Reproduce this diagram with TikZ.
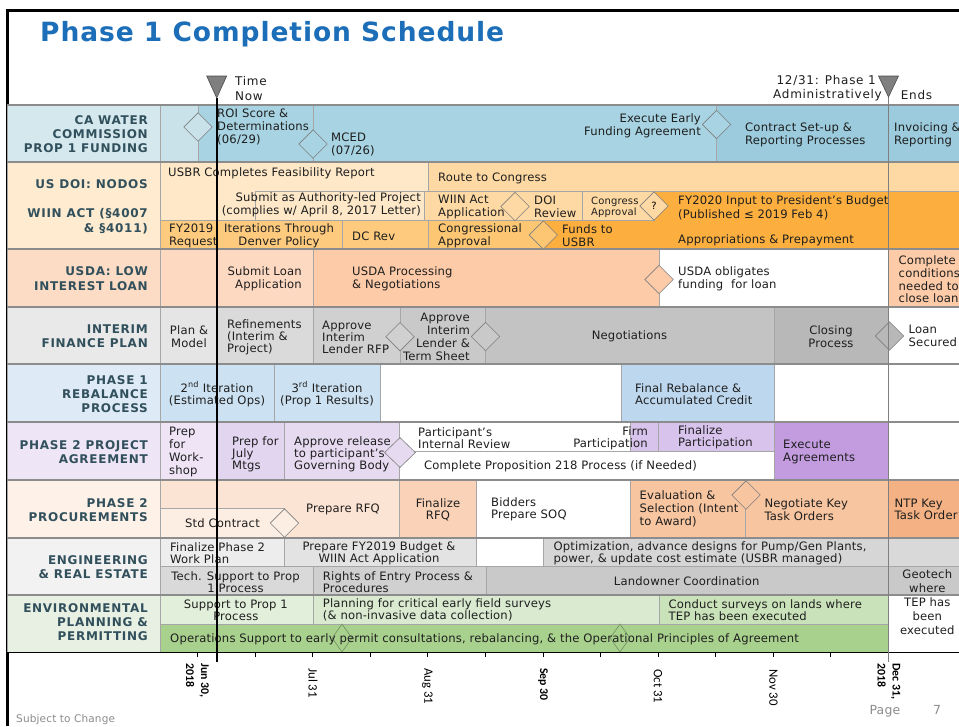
\documentclass[tikz,border=0pt]{standalone}
\usepackage{fontspec}
\setmainfont{DejaVu Sans}[LetterSpace=1.5]
\newfontfamily\lblfont{DejaVu Sans}[LetterSpace=6]
\newfontfamily\hdrfont{DejaVu Sans}[LetterSpace=6]
\newfontfamily\ttlfont{DejaVu Sans}[LetterSpace=3.5]
\newfontfamily\datefont{Carlito}
\usetikzlibrary{shapes.geometric}
\definecolor{gridc}{HTML}{A6A6A6}
\definecolor{rowc}{HTML}{8C8C8C}
\definecolor{lblcol}{HTML}{31505C}
\definecolor{ttl}{HTML}{1B6EB7}
\definecolor{txtc}{HTML}{1E1E1E}
\definecolor{msc}{HTML}{7F7F7F}
\definecolor{msg}{HTML}{6F8F5F}
\definecolor{trif}{HTML}{7F7F7F}
\definecolor{tric}{HTML}{4D4D4D}
\definecolor{endl}{HTML}{7F7F7F}
\definecolor{footc}{HTML}{8C8C8C}
\definecolor{c1lab}{HTML}{D4E8EE}\definecolor{c1a}{HTML}{C9E2E9}\definecolor{c1b}{HTML}{A7D3E2}\definecolor{c1c}{HTML}{9BCBDC}
\definecolor{c2lab}{HTML}{FEEBD0}\definecolor{c2a}{HTML}{FEE8C8}\definecolor{c2b}{HTML}{FFD9A3}\definecolor{c2c}{HTML}{FECB7E}\definecolor{c2d}{HTML}{FDC672}\definecolor{c2e}{HTML}{FCAF3F}
\definecolor{c3lab}{HTML}{FDDCC5}\definecolor{c3a}{HTML}{FDD9C2}\definecolor{c3b}{HTML}{FDCBA8}
\definecolor{c4lab}{HTML}{E9E9E9}\definecolor{c4a}{HTML}{E5E5E5}\definecolor{c4b}{HTML}{DADADA}\definecolor{c4c}{HTML}{D0D0D0}\definecolor{c4d}{HTML}{C9C9C9}\definecolor{c4e}{HTML}{C3C3C3}\definecolor{c4f}{HTML}{B8B8B8}
\definecolor{c5lab}{HTML}{DEEBF7}\definecolor{c5a}{HTML}{CCE2F2}\definecolor{c5b}{HTML}{BDD7EE}
\definecolor{c6lab}{HTML}{EEE5F6}\definecolor{c6a}{HTML}{EEE4F6}\definecolor{c6b}{HTML}{E2D5F0}\definecolor{c6c}{HTML}{E6DAF1}\definecolor{c6d}{HTML}{D8C3EC}\definecolor{c6e}{HTML}{C39CE0}
\definecolor{c7lab}{HTML}{FDF1E8}\definecolor{c7a}{HTML}{FCE4D4}\definecolor{c7b}{HTML}{FDEEE3}\definecolor{c7c}{HTML}{F9D2B7}\definecolor{c7d}{HTML}{F7C5A0}\definecolor{c7e}{HTML}{F4B183}
\definecolor{c8lab}{HTML}{F2F2F2}\definecolor{c8a}{HTML}{EDEDED}\definecolor{c8b}{HTML}{E3E3E3}\definecolor{c8c}{HTML}{D6D6D6}\definecolor{c8d}{HTML}{D9D9D9}\definecolor{c8e}{HTML}{D0D0D0}\definecolor{c8f}{HTML}{C9C9C9}
\definecolor{c9lab}{HTML}{E8F0E3}\definecolor{c9a}{HTML}{E2EFDA}\definecolor{c9b}{HTML}{D9EAD0}\definecolor{c9c}{HTML}{C9E2B9}\definecolor{c9d}{HTML}{A9D18E}
\newcommand\cellrect[5]{\path[cellbox,fill=#5] (#1,#2) rectangle (#3,#4);}
\begin{document}
\begin{tikzpicture}[x=1pt,y=-1pt,
 cellbox/.style={draw=gridc,line width=0.8pt},
 txt/.style={font=\fontsize{11.6}{13}\selectfont,inner sep=0pt,text=txtc},
 lt/.style={txt,anchor=west,align=left},
 ct/.style={txt,anchor=center,align=center},
 rt/.style={txt,anchor=east,align=right},
 hdr/.style={font=\hdrfont\fontsize{12}{15.7}\selectfont,inner sep=0pt,text=txtc},
 lbl/.style={font=\lblfont\bfseries\fontsize{12}{14.3}\selectfont,text=lblcol,anchor=east,align=right,inner sep=0pt},
 ms/.style={diamond,draw=msc,line width=0.6pt,inner sep=0pt,minimum width=28.6pt,minimum height=28.6pt},
 msn/.style={diamond,draw=msg,line width=0.6pt,inner sep=0pt,minimum width=20pt,minimum height=28pt,fill=c9d},
 datef/.style={font=\datefont\fontsize{12.8}{14}\selectfont,rotate=-90,anchor=west,align=left,inner sep=0pt,text=black},
 dateb/.style={font=\datefont\bfseries\fontsize{11.8}{15}\selectfont,rotate=-90,anchor=west,align=left,inner sep=0pt,text=black},
 foot/.style={inner sep=0pt,text=footc}
]
\useasboundingbox (0,0) rectangle (959,726);
\fill[white] (0,0) rectangle (959,726);
% frame
\draw[black,line width=2.6pt] (7.3,726) -- (7.3,10.5) -- (965,10.5);
% title
\node[anchor=base west,font=\ttlfont\bfseries\fontsize{26.5}{30}\selectfont,text=ttl,inner sep=0pt] (title) at (40,41.7) {Phase 1 Completion Schedule};
% ---------------- cells ----------------
% row 1
\cellrect{7}{105}{160}{162}{c1lab}
\cellrect{160}{105}{198}{162}{c1a}
\cellrect{198}{105}{313}{162}{c1b}
\cellrect{313}{105}{716.5}{162}{c1b}
\cellrect{716.5}{105}{888.5}{162}{c1c}
\cellrect{888.5}{105}{966}{162}{c1c}
% row 2
\cellrect{7}{162}{160}{249}{c2lab}
\path[cellbox,fill=c2a] (160,162) -- (428,162) -- (428,191.5) -- (255,191.5) -- (255,220.5) -- (160,220.5) -- cycle;
\cellrect{428}{162}{888.5}{191.5}{c2b}
\cellrect{888.5}{162}{966}{191.5}{c2b}
\cellrect{255}{191.5}{424}{220.5}{c2a}
\cellrect{424}{191.5}{515}{220.5}{c2b}
\cellrect{515}{191.5}{582}{220.5}{c2b}
\cellrect{582}{191.5}{654}{220.5}{c2b}
\path[cellbox,fill=c2e] (654,191.5) -- (888.5,191.5) -- (888.5,249) -- (543,249) -- (543,220.5) -- (654,220.5) -- cycle;
\cellrect{888.5}{191.5}{966}{249}{c2e}
\cellrect{160}{220.5}{217}{249}{c2c}
\cellrect{217}{220.5}{342}{249}{c2c}
\cellrect{342}{220.5}{428}{249}{c2c}
\cellrect{428}{220.5}{543}{249}{c2d}
% row 3
\cellrect{7}{249}{160}{307}{c3lab}
\cellrect{160}{249}{313}{307}{c3a}
\cellrect{313}{249}{659}{307}{c3b}
\cellrect{659}{249}{888.5}{307}{white}
\cellrect{888.5}{249}{966}{307}{c3b}
% row 4
\cellrect{7}{307}{160}{364}{c4lab}
\cellrect{160}{307}{217}{364}{c4a}
\cellrect{217}{307}{313}{364}{c4b}
\cellrect{313}{307}{400}{364}{c4c}
\cellrect{400}{307}{485.5}{364}{c4d}
\cellrect{485.5}{307}{774}{364}{c4e}
\cellrect{774}{307}{888.5}{364}{c4f}
\cellrect{888.5}{307}{966}{364}{white}
% row 5
\cellrect{7}{364}{160}{422}{c5lab}
\cellrect{160}{364}{274.5}{422}{c5a}
\cellrect{274.5}{364}{380.5}{422}{c5a}
\cellrect{380.5}{364}{621}{422}{white}
\cellrect{621}{364}{774}{422}{c5b}
\cellrect{774}{364}{888.5}{422}{white}
\cellrect{888.5}{364}{966}{422}{white}
% row 6
\cellrect{7}{422}{160}{480}{c6lab}
\cellrect{160}{422}{217}{480}{c6a}
\cellrect{217}{422}{284.3}{480}{c6b}
\cellrect{284.3}{422}{399.5}{480}{c6c}
\cellrect{399.5}{422}{630}{451}{white}
\cellrect{630}{422}{658.5}{451}{c6d}
\cellrect{658.5}{422}{774}{451}{c6d}
\cellrect{399.5}{451}{774}{480}{white}
\cellrect{774}{422}{888.5}{480}{c6e}
\cellrect{888.5}{422}{966}{480}{white}
% row 7
\cellrect{7}{480}{160}{538}{c7lab}
\path[cellbox,fill=c7a] (160,480) -- (399.5,480) -- (399.5,538) -- (284.5,538) -- (284.5,508.5) -- (160,508.5) -- cycle;
\cellrect{160}{508.5}{284.5}{538}{c7b}
\cellrect{399.5}{480}{476.5}{538}{c7c}
\cellrect{476.5}{480}{630}{538}{white}
\cellrect{630}{480}{745.7}{538}{c7d}
\cellrect{745.7}{480}{888.5}{538}{c7d}
\cellrect{888.5}{480}{966}{538}{c7e}
% row 8
\cellrect{7}{538}{160}{595}{c8lab}
\cellrect{160}{538}{284.3}{566}{c8a}
\cellrect{284.3}{538}{476.5}{566}{c8b}
\cellrect{476.5}{538}{543.3}{566}{white}
\cellrect{543.3}{538}{888.5}{566}{c8c}
\cellrect{888.5}{538}{966}{566}{c8d}
\cellrect{160}{566}{313}{595}{c8d}
\cellrect{313}{566}{486}{595}{c8e}
\cellrect{486}{566}{888.5}{595}{c8f}
\cellrect{888.5}{566}{966}{595}{c8f}
% row 9
\cellrect{7}{595}{160}{652}{c9lab}
\cellrect{160}{595}{313}{624}{c9a}
\cellrect{313}{595}{659}{624}{c9b}
\cellrect{659}{595}{888.5}{624}{c9c}
\cellrect{888.5}{595}{966}{652}{white}
\cellrect{160}{624}{888.5}{652}{c9d}
% row separators
\foreach \yy in {105,162,249,307,364,422,480,538,595}
  \draw[rowc,line width=1.2pt] (7,\yy) -- (966,\yy);
% axis
\draw[black,line width=1pt] (7,652.5) -- (966,652.5);
\foreach \i in {0,...,12}
  \draw[black,line width=0.9pt] (197.7+57.55*\i,652.5) -- ++(0,4);
% ---------------- milestones ----------------
\node[ms,fill=c1a] (d1) at (198,127) {};
\node[ms,fill=c1b] (d2) at (313,144) {};
\node[ms,fill=c1b] (d3) at (716.5,124.5) {};
\node[ms,fill=c2b] (d4) at (515,206.5) {};
\node[ms,fill=c2b,font=\fontsize{10}{10}\selectfont] (d5) at (654,206) {?};
\node[ms,fill=c2d] (d6) at (543.3,235) {};
\node[ms,fill=c3b] (d7) at (659,279.5) {};
\node[ms,fill=c4c] (d8) at (400,336.7) {};
\node[ms,fill=c4d] (d9) at (485.5,336.5) {};
\node[ms,fill=c4f] (d10) at (889.5,336) {};
\node[ms,fill=c6c,minimum width=31pt,minimum height=30pt] (d11) at (400,452.5) {};
\node[ms,fill=c7b] (d12) at (284.5,523) {};
\node[ms,fill=c7d] (d13) at (746,495) {};
\node[msn] (d14) at (342,638) {};
\node[msn] (d15) at (620,638) {};
% ---------------- row labels ----------------
\node[lbl] (l1) at (148,134.3) {CA WATER\\COMMISSION\\PROP 1 FUNDING};
\node[lbl] (l2a) at (148,184.5) {US DOI: NODOS};
\node[lbl] (l2b) at (148,221.2) {WIIN ACT (§4007\\\& §4011)};
\node[lbl] (l3) at (148,278.6) {USDA: LOW\\INTEREST LOAN};
\node[lbl] (l4) at (148,336) {INTERIM\\FINANCE PLAN};
\node[lbl] (l5) at (148,394) {PHASE 1\\REBALANCE\\PROCESS};
\node[lbl] (l6) at (148,451.8) {PHASE 2 PROJECT\\AGREEMENT};
\node[lbl] (l7) at (148,509.8) {PHASE 2\\PROCUREMENTS};
\node[lbl] (l8) at (148,567) {ENGINEERING\\\& REAL ESTATE};
\node[lbl] (l9) at (148,622) {ENVIRONMENTAL\\PLANNING \&\\PERMITTING};
% ---------------- cell texts ----------------
% row 1
\node[lt] (t1a) at (217,127) {ROI Score \&\\Determinations\\(06/29)};
\node[lt] (t1b) at (331,144.7) {MCED\\(07/26)};
\node[rt] (t1c) at (701,125.5) {Execute Early\\Funding Agreement};
\node[lt] (t1d) at (745,134.5) {Contract Set-up \&\\Reporting Processes};
\node[lt] (t1e) at (894,134.5) {Invoicing \&\\Reporting};
% row 2
\node[lt] (t2a) at (168,173) {USBR Completes Feasibility Report};
\node[lt] (t2b) at (438,178) {Route to Congress};
\node[rt] (t2c) at (421,205) {Submit as Authority-led Project\\(complies w/ April 8, 2017 Letter)};
\node[lt] (t2d) at (438,206.5) {WIIN Act\\Application};
\node[lt] (t2e) at (534,206.3) {DOI\\Review};
\node[lt,font=\fontsize{10}{11.5}\selectfont] (t2f) at (591,207.2) {Congress\\Approval};
\node[lt,font=\fontsize{11.6}{13.5}\selectfont] (t2g) at (678,207.8) {FY2020 Input to President’s Budget\\(Published ≤ 2019 Feb 4)};
\node[lt] (t2h) at (169,235.5) {FY2019\\Request};
\node[ct] (t2i) at (279,235.5) {Iterations Through\\Denver Policy};
\node[lt] (t2j) at (352,236) {DC Rev};
\node[lt] (t2k) at (438,235.5) {Congressional\\Approval};
\node[lt] (t2l) at (562,235.5) {Funds to\\USBR};
\node[lt] (t2m) at (678,240) {Appropriations \& Prepayment};
% row 3
\node[rt] (t3a) at (302,278.7) {Submit Loan\\Application};
\node[lt] (t3b) at (352,278.7) {USDA Processing\\\& Negotiations};
\node[lt] (t3c) at (678,279.2) {USDA obligates\\funding\ \ for loan};
\node[lt,font=\fontsize{11.6}{12.7}\selectfont] (t3d) at (898.5,279.5) {Complete\\conditions\\needed to\\close loan};
% row 4
\node[ct] (t4a) at (189,337) {Plan \&\\Model};
\node[lt,font=\fontsize{11.6}{12.3}\selectfont] (t4b) at (227,337.2) {Refinements\\(Interim \&\\Project)};
\node[lt,font=\fontsize{11.6}{12}\selectfont] (t4c) at (322,337.7) {Approve\\Interim\\Lender RFP};
\node[rt,font=\fontsize{11.6}{12.8}\selectfont] (t4d) at (470,336.8) {Approve\\Interim\\Lender \&\\Term Sheet};
\node[ct] (t4e) at (629.5,336.3) {Negotiations};
\node[ct] (t4f) at (831,337) {Closing\\Process};
\node[lt,font=\fontsize{11.6}{12.5}\selectfont] (t4g) at (908.5,335.8) {Loan\\Secured};
% row 5
\node[ct,font=\fontsize{11.6}{12.5}\selectfont] (t5a) at (217,394.2) {2\textsuperscript{nd} Iteration\\(Estimated Ops)};
\node[ct,font=\fontsize{11.6}{12.5}\selectfont] (t5b) at (327,394.2) {3\textsuperscript{rd} Iteration\\(Prop 1 Results)};
\node[lt,font=\fontsize{11.6}{12.5}\selectfont] (t5c) at (635,394.2) {Final Rebalance \&\\Accumulated Credit};
% row 6
\node[lt] (t6a) at (169,451.5) {Prep\\for\\Work-\\shop};
\node[lt,font=\fontsize{11.6}{12}\selectfont] (t6b) at (232,454) {Prep for\\July\\Mtgs};
\node[lt,font=\fontsize{11.6}{12}\selectfont] (t6c) at (294,453.8) {Approve release\\to participant’s\\Governing Body};
\node[lt,font=\fontsize{11.6}{12.5}\selectfont] (t6d) at (418,438.2) {Participant’s\\Internal Review};
\node[rt,font=\fontsize{11.6}{12.5}\selectfont] (t6e) at (648,438.2) {Firm\\Participation};
\node[lt,font=\fontsize{11.6}{12}\selectfont] (t6f) at (678,437.5) {Finalize\\Participation};
\node[lt] (t6g) at (424,466) {Complete Proposition 218 Process (if Needed)};
\node[lt] (t6h) at (783,451.5) {Execute\\Agreements};
% row 7
\node[ct] (t7a) at (343,509.3) {Prepare RFQ};
\node[lt] (t7b) at (185,522.7) {Std Contract};
\node[ct,font=\fontsize{11.6}{12.7}\selectfont] (t7c) at (438,509.7) {Finalize\\RFQ};
\node[lt,font=\fontsize{11.6}{12.5}\selectfont] (t7d) at (491,509.5) {Bidders\\Prepare SOQ};
\node[lt] (t7e) at (639.5,509.3) {Evaluation \&\\Selection (Intent\\to Award)};
\node[lt,font=\fontsize{11.6}{12.5}\selectfont] (t7f) at (764.3,509.5) {Negotiate Key\\Task Orders};
\node[lt,font=\fontsize{11.6}{12.5}\selectfont] (t7g) at (894.3,509.5) {NTP Key\\Task Order};
% row 8
\node[lt,font=\fontsize{11.6}{12.3}\selectfont] (t8a) at (170,553) {Finalize Phase 2\\Work Plan};
\node[ct,font=\fontsize{11.6}{12.3}\selectfont] (t8b) at (379,553) {Prepare FY2019 Budget \&\\WIIN Act Application};
\node[lt,font=\fontsize{11.6}{12.3}\selectfont] (t8c) at (553.3,553) {Optimization, advance designs for Pump/Gen Plants,\\power, \& update cost estimate (USBR managed)};
\node[ct,font=\fontsize{11.6}{12}\selectfont] (t8d) at (235.5,581.7) {Tech. Support to Prop\\1 Process};
\node[lt,font=\fontsize{11.6}{12}\selectfont] (t8e) at (322.7,581.7) {Rights of Entry Process \&\\Procedures};
\node[ct] (t8f) at (686.7,581) {Landowner Coordination};
\node[ct,font=\fontsize{11.6}{14}\selectfont] (t8g) at (927.3,602) {Geotech\\where\\TEP has\\been\\executed};
% row 9
\node[ct,font=\fontsize{11.6}{12}\selectfont] (t9a) at (235.8,610) {Support to Prop 1\\Process};
\node[lt,font=\fontsize{11.6}{12}\selectfont] (t9b) at (322.7,610) {Planning for critical early field surveys\\(\& non-invasive data collection)};
\node[lt,font=\fontsize{11.6}{12}\selectfont] (t9c) at (668.3,610) {Conduct surveys on lands where\\TEP has been executed};
\node[lt] (t9d) at (170,639.3) {Operations Support to early permit consultations, rebalancing, \& the Operational Principles of Agreement};
% ---------------- header markers ----------------
\node[hdr,anchor=west,align=left] (tnow) at (235,88.4) {Time\\Now};
\node[hdr,anchor=east] (tend1) at (876,80.5) {12/31: Phase 1};
\node[hdr,anchor=east] (tend2) at (882,95.5) {Administratively};
\node[hdr,anchor=west] (tend3) at (900.7,95.5) {Ends};
\coordinate (nowtop) at (216.7,98);
\coordinate (nowbot) at (216.7,662);
\coordinate (endtop) at (888.5,97);
\coordinate (endbot) at (888.5,662);
\draw[endl,line width=1.8pt] (endtop) -- (endbot);
\draw[black,line width=2.2pt] (nowtop) -- (nowbot);
\draw[tric,fill=trif,line width=0.6pt] (206.7,76) -- (226.7,76) -- (nowtop) -- cycle;
\draw[tric,fill=trif,line width=0.6pt] (878.5,76) -- (898.5,76) -- (endtop) -- cycle;
% ---------------- dates ----------------
\node[dateb] (dJun) at (197.5,663) {Jun 30,\\2018};
\node[datef] (dJul) at (313,668) {Jul 31};
\node[datef] (dAug) at (427.5,668) {Aug 31};
\node[dateb] (dSep) at (543,668) {Sep 30};
\node[datef] (dOct) at (658,669) {Oct 31};
\node[datef] (dNov) at (773.5,669) {Nov 30};
\node[dateb] (dDec) at (889,663) {Dec 31,\\2018};
% ---------------- footer ----------------
\node[foot,anchor=west,font=\fontsize{10.5}{12}\selectfont] (subj) at (16,719.5) {Subject to Change};
\node[foot,anchor=base west,font=\fontsize{12.5}{14}\selectfont] (pg) at (869.3,714) {Page};
\node[foot,anchor=base west,font=\fontsize{12.5}{14}\selectfont] (pgn) at (933,714) {7};
\end{tikzpicture}
\end{document}
